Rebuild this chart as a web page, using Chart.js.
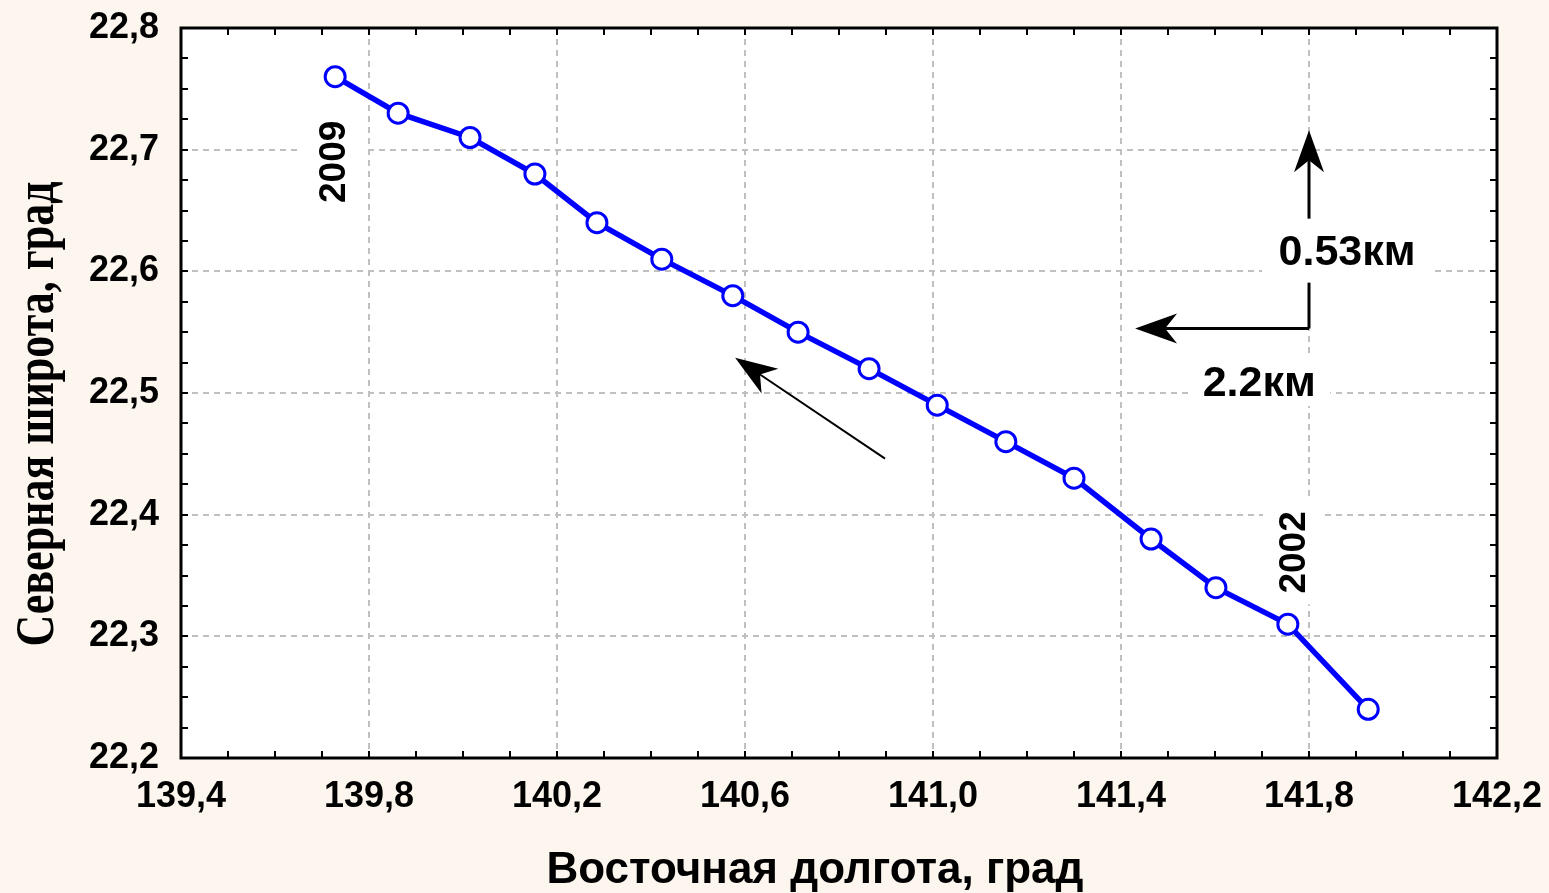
<!DOCTYPE html>
<html>
<head>
<meta charset="utf-8">
<script src="https://cdn.jsdelivr.net/npm/chart.js@4.4.1/dist/chart.umd.min.js"></script>
<style>
  html, body { margin: 0; padding: 0; background: #fdf6ef; }
  #wrap { width: 1549px; height: 893px; }
</style>
</head>
<body>
<div id="wrap"><canvas id="chart" width="1549" height="893"></canvas></div>
<script>
// Drift of the centre, 2002 -> 2009
const lon = [141.926, 141.755, 141.602, 141.464, 141.300, 141.155, 141.009, 140.864,
             140.713, 140.574, 140.423, 140.285, 140.153, 140.015, 139.862, 139.728];
const lat = [22.24, 22.31, 22.34, 22.38, 22.43, 22.46, 22.49, 22.52,
             22.55, 22.58, 22.61, 22.64, 22.68, 22.71, 22.73, 22.76];

const xRange = [139.4, 142.2];
const yRange = [22.2, 22.8];
const xStep = 0.4, yStep = 0.1;
const xMinor = 0.1, yMinor = 0.025;

const xTitle = 'Восточная долгота, град';
const yTitle = 'Северная широта, град';

const SANS = "'Liberation Sans', Arial, sans-serif";
const SERIF = "'Liberation Serif', 'Times New Roman', serif";

// annotations in data coordinates
const labels = [
  { text: "2009", x: 139.723, y: 22.690, rot: true, size: 37, box: [32, 44] },
  { text: "2002", x: 141.766, y: 22.369, rot: true, size: 37, box: [30, 52] },
  { text: "0.53км", x: 141.881, y: 22.617, rot: false, size: 43, box: [85, 32] },
  { text: "2.2км", x: 141.694, y: 22.509, rot: false, size: 43, box: [71, 24] }
];
const arrows = [
  { from: [141.8, 22.553], to: [141.8, 22.716], w: 3 },
  { from: [141.8, 22.553], to: [141.43, 22.553], w: 3 },
  { from: [140.898, 22.446], to: [140.579, 22.529], w: 2 }
];

function fmt(v) { return v.toFixed(1).replace('.', ','); }

function arrow(ctx, x1, y1, x2, y2, w) {
  const a = Math.atan2(y2 - y1, x2 - x1);
  const L = 42, H = 15, N = 30;
  ctx.save();
  ctx.strokeStyle = '#000'; ctx.fillStyle = '#000'; ctx.lineWidth = w;
  ctx.beginPath();
  ctx.moveTo(x1, y1);
  ctx.lineTo(x2 - Math.cos(a) * N, y2 - Math.sin(a) * N);
  ctx.stroke();
  ctx.translate(x2, y2); ctx.rotate(a);
  ctx.beginPath();
  ctx.moveTo(0, 0);
  ctx.lineTo(-L, -H);
  ctx.lineTo(-N, 0);
  ctx.lineTo(-L, H);
  ctx.closePath();
  ctx.fill();
  ctx.restore();
}

const decor = {
  id: 'decor',
  beforeDraw(chart) {
    const { ctx, chartArea: a } = chart;
    ctx.save();
    ctx.fillStyle = '#fdf6ef';
    ctx.fillRect(0, 0, chart.width, chart.height);
    ctx.fillStyle = '#ffffff';
    ctx.fillRect(a.left, a.top, a.right - a.left, a.bottom - a.top);
    ctx.restore();
  },
  afterDatasetsDraw(chart) {
    const { ctx, chartArea: a, scales: { x, y } } = chart;
    ctx.save();
    // arrows
    arrows.forEach(r => arrow(ctx, x.getPixelForValue(r.from[0]), y.getPixelForValue(r.from[1]),
      x.getPixelForValue(r.to[0]), y.getPixelForValue(r.to[1]), r.w));
    // text labels with white boxes
    labels.forEach(l => {
      const px = x.getPixelForValue(l.x), py = y.getPixelForValue(l.y);
      ctx.save();
      ctx.translate(px, py);
      if (l.rot) ctx.rotate(-Math.PI / 2);
      ctx.font = 'bold ' + l.size + 'px ' + SANS;
      ctx.fillStyle = '#fff';
      if (l.rot) ctx.fillRect(-l.box[1], -l.box[0], 2 * l.box[1], 2 * l.box[0]);
      else ctx.fillRect(-l.box[0], -l.box[1], 2 * l.box[0], 2 * l.box[1]);
      ctx.fillStyle = '#000';
      ctx.textAlign = 'center'; ctx.textBaseline = 'middle';
      ctx.fillText(l.text, 0, 2);
      ctx.restore();
    });
    // frame
    ctx.strokeStyle = '#000'; ctx.lineWidth = 3;
    ctx.strokeRect(a.left, a.top, a.right - a.left, a.bottom - a.top);
    // minor ticks, inside, all four sides
    ctx.lineWidth = 2;
    ctx.beginPath();
    const tl = 7;
    for (let v = xRange[0]; v <= xRange[1] + 1e-9; v += xMinor) {
      const px = Math.round(x.getPixelForValue(v));
      ctx.moveTo(px, a.bottom); ctx.lineTo(px, a.bottom - tl);
      ctx.moveTo(px, a.top); ctx.lineTo(px, a.top + tl);
    }
    for (let v = yRange[0]; v <= yRange[1] + 1e-9; v += yMinor) {
      const py = Math.round(y.getPixelForValue(v));
      ctx.moveTo(a.left, py); ctx.lineTo(a.left + tl, py);
      ctx.moveTo(a.right, py); ctx.lineTo(a.right - tl, py);
    }
    ctx.stroke();
    ctx.restore();
  },
  afterDraw(chart) {
    const ctx = chart.ctx;
    ctx.save();
    ctx.fillStyle = '#000';
    ctx.textAlign = 'center';
    ctx.textBaseline = 'alphabetic';
    // axis titles
    ctx.font = 'bold 44px ' + SANS;
    ctx.fillText(xTitle, 815, 883);
    ctx.translate(53, 414);
    ctx.rotate(-Math.PI / 2);
    ctx.scale(1, 1.27);
    ctx.font = 'bold 44px ' + SERIF;
    ctx.fillText(yTitle, 0, 0);
    ctx.restore();
  }
};

new Chart(document.getElementById('chart'), {
  type: 'line',
  data: {
    datasets: [{
      data: lon.map((v, i) => ({ x: v, y: lat[i] })),
      borderColor: '#0000ff',
      borderWidth: 5.5,
      pointRadius: 10,
      pointBorderWidth: 3,
      pointBackgroundColor: '#ffffff',
      pointBorderColor: '#0000ff',
      tension: 0
    }]
  },
  options: {
    responsive: false,
    animation: false,
    layout: { padding: { top: 28, right: 52, left: 0, bottom: 0 } },
    plugins: { legend: { display: false }, tooltip: { enabled: false } },
    scales: {
      x: {
        type: 'linear',
        min: xRange[0], max: xRange[1],
        afterFit: s => { s.height = 135; s.paddingLeft = 0; s.paddingRight = 0; },
        ticks: {
          stepSize: xStep, padding: 17, color: '#000',
          font: { family: SANS, size: 36, weight: 'bold' },
          callback: v => fmt(v), maxRotation: 0
        },
        grid: { color: '#c0c0c0', lineWidth: 2, drawTicks: false },
        border: { display: false, dash: [6, 5] }
      },
      y: {
        min: yRange[0], max: yRange[1],
        afterFit: s => { s.width = 181; s.paddingTop = 0; s.paddingBottom = 0; },
        ticks: {
          stepSize: yStep, padding: 22, color: '#000',
          font: { family: SANS, size: 36, weight: 'bold' },
          callback: v => fmt(v)
        },
        grid: { color: '#c0c0c0', lineWidth: 2, drawTicks: false },
        border: { display: false, dash: [6, 5] }
      }
    }
  },
  plugins: [decor]
});
</script>
</body>
</html>
